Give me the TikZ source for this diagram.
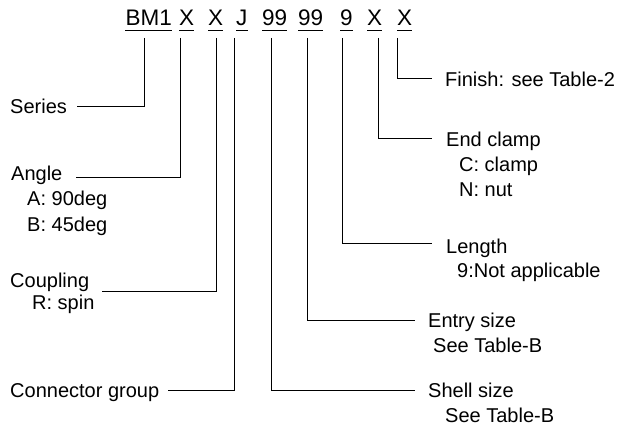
\documentclass[tikz,border=0pt]{standalone}
\usepackage{fontspec}
\setmainfont{Liberation Sans}
\tikzset{
  partno/.style={anchor=base west, inner sep=0pt, font=\fontsize{22.5}{25}\selectfont},
  note/.style={anchor=base west, inner sep=0pt, font=\fontsize{20}{25}\selectfont},
  lead/.style={line width=1pt},
}
\begin{document}
\begin{tikzpicture}[x=1pt,y=-1pt]
    \useasboundingbox (0,0) rectangle (617,427);
    % part number, underlined
    \node[partno, anchor=base east] (bm) at (172,25.5) {BM1};
    \foreach \n/\x/\t in {ang/179/X, cpl/208/X, grp/236/J, shl/262/99, ent/298/99, len/340/9, clp/367/X, fin/397/X}
        {
            \node[partno] (\n) at (\x,25.5) {\t};
        }
    \foreach \n in {bm,ang,cpl,grp,shl,ent,len,clp,fin}
        \draw[line width=1.3pt] ([yshift=-5pt]\n.base west) -- ([yshift=-5pt]\n.base east);
    % leaders
    \foreach \n/\x/\e/\y in {bm/144/77/107, ang/180/76/178, cpl/216/102/291, grp/234/168/390, shl/271/415/390, ent/307/415/320, len/342/432/243, clp/378/432/139, fin/397/432/79}
        {
            \coordinate (\n-top) at (\x,38);
            \coordinate (\n-end) at (\e,\y);
            \draw[lead] (\n-top) |- (\n-end);
        }
    % left side
    \node[note] (series) at (10,114) {Series};
    \node[note] (angle) at (11,181) {Angle};
    \node[note] (angA) at (27,206) {A: 90deg};
    \node[note] (angB) at (27,232) {B: 45deg};
    \node[note] (coupling) at (10,287) {Coupling};
    \node[note] (cplR) at (32,309) {R: spin};
    \node[note] (group) at (10,397) {Connector group};
    % right side
    \node[note] (finish) at (445,87) {Finish: see Table-2};
    \node[note] (clamp) at (446,147) {End clamp};
    \node[note] (clampC) at (459,172) {C: clamp};
    \node[note] (clampN) at (459,197) {N: nut};
    \node[note] (length) at (446,253) {Length};
    \node[note] (lenNA) at (457,277) {9:Not applicable};
    \node[note] (entry) at (428,327) {Entry size};
    \node[note] (entryT) at (433,352) {See Table-B};
    \node[note] (shell) at (428,397) {Shell size};
    \node[note] (shellT) at (445,422) {See Table-B};
\end{tikzpicture}
\end{document}
